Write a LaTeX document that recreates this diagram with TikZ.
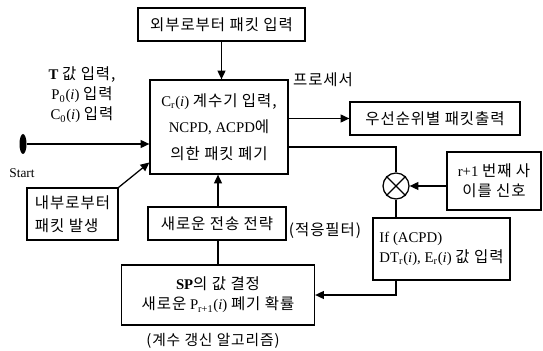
\documentclass[tikz,border=0pt]{standalone}
\usepackage{fontspec}
\setmainfont{Liberation Serif}
\newfontfamily\krfont[Scale=1.05, LetterSpace=6]{Noto Sans CJK KR}
\newcommand{\kor}[1]{{\krfont #1}}
\usetikzlibrary{arrows.meta, shapes.geometric}
\tikzset{
  block/.style={rectangle, draw, line width=0.9pt, align=center,
                inner sep=2pt, font=\fontsize{10.5}{14.2}\selectfont},
  arrow/.style={-{Triangle[length=2.2mm, width=2mm]}, line width=0.9pt},
  wire/.style={line width=0.9pt},
  note/.style={align=center, font=\fontsize{10.5}{14.2}\selectfont}
}

\begin{document}
\begin{tikzpicture}[x=0.25mm, y=-0.25mm]
\useasboundingbox (0,0) rectangle (543,351);

% Row 1: external packet input
\node[block, minimum width=41.75mm, minimum height=8.25mm] (ExtInput) at (221.5,24.5) {\kor{외부로부터 패킷 입력}};

% Row 2: processor + priority output
\node[block, minimum width=34.5mm, minimum height=23.5mm,
      font=\fontsize{10.5}{18.8}\selectfont] (Processor) at (219,127)
      {C\textsubscript{r}(\textit{i}) \kor{계수기 입력,}\\NCPD, ACPD\kor{에}\\\kor{의한 패킷 폐기}};
\node[note] (ProcLabel) at (323,80) {\kor{프로세서}};
\node[block, minimum width=42.5mm, minimum height=8.25mm] (PrioOutput) at (435,118.5) {\kor{우선순위별 패킷출력}};

% Left side: start + initial values + internal packets
\node[note] (InitLabel) at (82,95) {\textbf{T} \kor{값 입력,}\\P\textsubscript{0}(\textit{i}) \kor{입력}\\C\textsubscript{0}(\textit{i}) \kor{입력}};
\node[ellipse, fill, minimum width=1.75mm, minimum height=5mm, inner sep=0pt] (Start) at (23,144) {};
\node[note, font=\fontsize{9.5}{11}\selectfont] (StartLabel) at (22,173) {Start};
\node[block, minimum width=22.75mm, minimum height=13mm, align=left,
      font=\fontsize{10.5}{16.5}\selectfont] (IntGen) at (72.5,214) {\kor{내부로부터}\\\kor{패킷 발생}};

% Right side: mixer + next signal + ACPD input
\node[circle, draw, line width=0.9pt, minimum size=6.5mm, inner sep=0pt] (Mixer) at (396,186) {};
\node[block, minimum width=23.5mm, minimum height=14.5mm] (NextSignal) at (494,181) {r+1 \kor{번째 사}\\\kor{이를 신호}};
\node[block, minimum width=34.25mm, minimum height=15.5mm, align=left] (AcpdInput) at (441.5,249)
      {If (ACPD)\\DT\textsubscript{r}(\textit{i}), E\textsubscript{r}(\textit{i}) \kor{값 입력}};

% Row 3: strategy + coefficient update
\node[block, minimum width=34.5mm, minimum height=8.25mm] (NewStrategy) at (217,223.5) {\kor{새로운 전송 전략}};
\node[note] (StratLabel) at (325,231) {\kor{(적응필터)}};
\node[block, minimum width=48.25mm, minimum height=15mm] (SpDecide) at (218,295)
      {\textbf{SP}\kor{의 값 결정}\\\kor{새로운} P\textsubscript{r+1}(\textit{i}) \kor{폐기 확률}};
\node[note, font=\fontsize{10}{12}\selectfont] (AlgoLabel) at (213,341) {\kor{(계수 갱신 알고리즘)}};

% --- Connections ---
% ExtInput -> Processor
\draw[arrow] (ExtInput.south) -- (ExtInput.south |- Processor.north);

% Start -> Processor, IntGen -> Processor
\draw[arrow] (Start.east) -- (Start.east -| Processor.west);
\draw[arrow] (IntGen.north east) -- (Processor.207);

% Processor -> PrioOutput, Processor -> Mixer
\draw[arrow] (Processor.east |- PrioOutput.west) -- (PrioOutput.west);
\draw[wire] (Processor.344) -| (Mixer.north);

% mixer cross
\draw[wire] (Mixer.north west) -- (Mixer.south east) (Mixer.north east) -- (Mixer.south west);

% NextSignal -> Mixer -> AcpdInput -> SpDecide
\draw[arrow] (NextSignal.west |- Mixer.east) -- (Mixer.east);
\draw[wire] (Mixer.south) -- (Mixer.south |- AcpdInput.north);
\draw[arrow] (Mixer |- AcpdInput.south) |- (SpDecide.east);

% SpDecide -> NewStrategy -> Processor
\draw[wire] (SpDecide.north) -- (SpDecide.north |- NewStrategy.south);
\draw[arrow] (SpDecide.north |- NewStrategy.north) -- (SpDecide.north |- Processor.south);

\end{tikzpicture}
\end{document}
